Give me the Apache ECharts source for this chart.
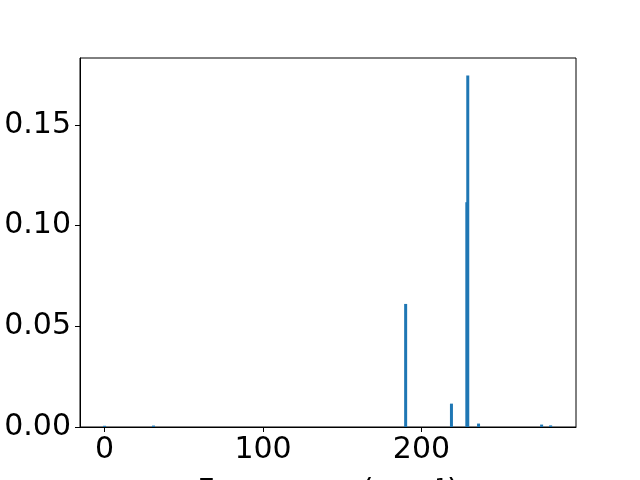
<!DOCTYPE html>
<html>
<head>
<meta charset="utf-8">
<script src="https://cdn.jsdelivr.net/npm/echarts@6/dist/echarts.min.js"></script>
<style>html,body{margin:0;padding:0;background:#fff}#c{width:640px;height:480px}</style>
</head>
<body>
<div id="c"></div>
<script>
const frequencies = [0, 30.9, 190.0, 218.9, 228.6, 229.2, 236.0, 275.8, 281.5];
const intensities = [0.0006, 0.0007, 0.0611, 0.0116, 0.1116, 0.1745, 0.0017, 0.0012, 0.0008];
const xTicks = [0, 100, 200];
const yTicks = [0, 0.05, 0.10, 0.15];
const xLabel = 'Frequency (cm\u207B\u00B9)';

const data = frequencies.map((f, i) => [f, intensities[i]]);
const chart = echarts.init(document.getElementById('c'));
const font = 'DejaVu Sans';
chart.setOption({
  animation: false,
  backgroundColor: '#fff',
  grid: { left: 80, right: 64, top: 58, bottom: 53, containLabel: false, outerBoundsMode: 'none',
    show: true, borderColor: '#000', borderWidth: 1, backgroundColor: 'transparent' },
  xAxis: {
    type: 'value', min: -15.5, max: 297.5,
    name: xLabel, nameLocation: 'middle', nameGap: 50,
    nameTextStyle: { fontFamily: font, fontSize: 30, color: '#000' },
    splitLine: { show: false },
    axisLine: { show: true, onZero: false, lineStyle: { color: '#000', width: 1 } },
    axisTick: { show: true, inside: false, length: 5, lineStyle: { color: '#000' }, customValues: xTicks },
    axisLabel: { fontFamily: font, fontSize: 30, color: '#000', margin: 8, customValues: xTicks }
  },
  yAxis: {
    type: 'value', min: 0, max: 0.1832,
    splitLine: { show: false },
    axisLine: { show: true, onZero: false, lineStyle: { color: '#000', width: 1 } },
    axisTick: { show: true, inside: false, length: 5, lineStyle: { color: '#000' }, customValues: yTicks },
    axisLabel: { fontFamily: font, fontSize: 30, color: '#000', margin: 9, customValues: yTicks,
      formatter: v => v.toFixed(2) }
  },
  series: [{
    type: 'bar', data: data, barWidth: 3,
    itemStyle: { color: '#1f77b4' }
  }]
});
</script>
</body>
</html>
